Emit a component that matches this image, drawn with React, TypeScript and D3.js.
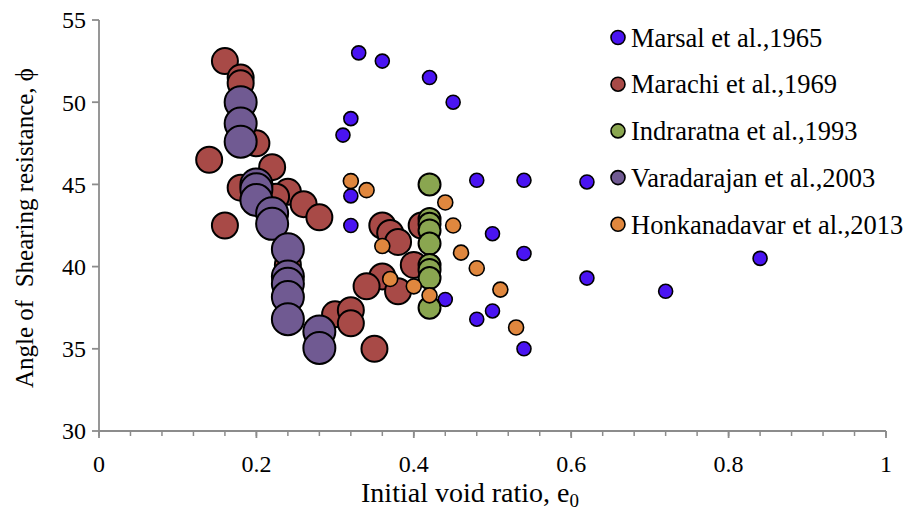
import React from "react";
import * as d3 from "d3";

type Pt = [number, number];

const seriesNames = [
  "Marsal et al.,1965",
  "Marachi et al.,1969",
  "Indraratna et al.,1993",
  "Varadarajan et al.,2003",
  "Honkanadavar et al.,2013",
];

const marsal: Pt[] = [
  [0.33, 53.0], [0.36, 52.5], [0.42, 51.5], [0.45, 50.0], [0.32, 49.0], [0.31, 48.0],
  [0.48, 45.25], [0.54, 45.25], [0.62, 45.15], [0.32, 44.3], [0.32, 42.5], [0.50, 42.0],
  [0.54, 40.8], [0.84, 40.5], [0.62, 39.3], [0.72, 38.5], [0.44, 38.0], [0.50, 37.3],
  [0.48, 36.8], [0.54, 35.0],
];

const marachi: Pt[] = [
  [0.16, 52.5], [0.18, 51.5], [0.18, 51.15], [0.20, 47.5], [0.14, 46.5], [0.22, 46.05],
  [0.18, 44.8], [0.24, 44.55], [0.225, 44.25], [0.26, 43.8], [0.28, 43.0], [0.16, 42.5],
  [0.24, 40.1], [0.36, 42.5], [0.37, 42.05], [0.38, 41.5], [0.41, 42.5], [0.40, 40.1],
  [0.36, 39.4], [0.34, 38.8], [0.38, 38.5], [0.30, 37.1], [0.32, 37.35], [0.32, 36.55],
  [0.35, 35.0],
];

const indraratna: Pt[] = [
  [0.42, 45.0], [0.42, 42.9], [0.42, 42.6], [0.42, 42.2], [0.42, 41.4], [0.42, 40.1],
  [0.42, 39.8], [0.42, 39.3], [0.42, 37.5],
];

const varadarajan: Pt[] = [
  [0.18, 50.0], [0.18, 48.7], [0.18, 47.6], [0.20, 45.0], [0.20, 44.7], [0.20, 44.05],
  [0.22, 43.25], [0.22, 42.6], [0.24, 41.05], [0.24, 39.4], [0.24, 38.95], [0.24, 38.15],
  [0.24, 36.8], [0.28, 36.05], [0.28, 35.05],
];

const honkanadavar: Pt[] = [
  [0.32, 45.2], [0.34, 44.65], [0.44, 43.9], [0.45, 42.5], [0.36, 41.25], [0.46, 40.85],
  [0.48, 39.9], [0.37, 39.25], [0.40, 38.8], [0.51, 38.6], [0.42, 38.25], [0.53, 36.3],
];

const xTickLabels = ["0", "0.2", "0.4", "0.6", "0.8", "1"];
const yTickLabels = ["30", "35", "40", "45", "50", "55"];

const seriesData = [marsal, marachi, indraratna, varadarajan, honkanadavar];
const colors = ["#4A14F2", "#A84A47", "#8AA650", "#705A92", "#E0873E"];
const radii = [7, 13, 11, 16, 7.5];

const W = 908;
const H = 518;
const left = 99;
const right = 886;
const top = 20;
const bottom = 431;
const FONT = "'Liberation Serif', 'Times New Roman', serif";
const AXIS = "#8C8C8C";

export default function App() {
  const x = d3.scaleLinear().domain([0, 1]).range([left, right]);
  const y = d3.scaleLinear().domain([30, 55]).range([bottom, top]);
  const minorTicks = d3.range(0, 26).map((i) => i * 0.04);
  const xt = xTickLabels.map((s) => +s);
  const yt = yTickLabels.map((s) => +s);

  return (
    <svg
      width={W}
      height={H}
      style={{ position: "absolute", left: 0, top: 0, background: "#fff" }}
      fontFamily={FONT}
    >
      <rect width={W} height={H} fill="#fff" />
      {/* axes */}
      <line x1={left} x2={left} y1={top} y2={bottom} stroke={AXIS} strokeWidth={1.8} />
      <line x1={left} x2={right} y1={bottom} y2={bottom} stroke={AXIS} strokeWidth={1.8} />
      {yt.map((v, i) => (
        <g key={"y" + i}>
          <line x1={left - 7} x2={left} y1={y(v)} y2={y(v)} stroke={AXIS} strokeWidth={1.8} />
          <text x={left - 13} y={y(v)} dy="0.35em" textAnchor="end" fontSize={24} fill="#000">
            {yTickLabels[i]}
          </text>
        </g>
      ))}
      {minorTicks.map((v, i) => (
        <line key={"m" + i} x1={x(v)} x2={x(v)} y1={bottom} y2={bottom + 5} stroke={AXIS} strokeWidth={1.5} />
      ))}
      {xt.map((v, i) => (
        <g key={"x" + i}>
          <line x1={x(v)} x2={x(v)} y1={bottom} y2={bottom + 7} stroke={AXIS} strokeWidth={1.8} />
          <text x={x(v)} y={472} textAnchor="middle" fontSize={24} fill="#000">
            {xTickLabels[i]}
          </text>
        </g>
      ))}
      {/* axis titles */}
      <text x={470} y={502} textAnchor="middle" fontSize={28} fill="#000">
        Initial void ratio, e
        <tspan fontSize={19} dy={5}>0</tspan>
      </text>
      <text
        transform={`translate(33, 228) rotate(-90)`}
        textAnchor="middle"
        fontSize={25}
        fill="#000"
        style={{ whiteSpace: "pre" }}
      >
        {"Angle of  Shearing resistance, \u03D5"}
      </text>
      {/* points */}
      {seriesData.map((data, si) => (
        <g key={"s" + si}>
          {data.map((d, i) => (
            <circle
              key={i}
              cx={x(d[0])}
              cy={y(d[1])}
              r={radii[si]}
              fill={colors[si]}
              stroke="#000"
              strokeWidth={si === 0 || si === 4 ? 1.6 : 2}
            />
          ))}
        </g>
      ))}
      {/* legend */}
      {seriesNames.map((name, i) => (
        <g key={"l" + i} transform={`translate(618, ${37.5 + i * 46.7})`}>
          <circle r={7} fill={colors[i]} stroke="#000" strokeWidth={1.6} />
          <text x={13} dy="0.35em" fontSize={26.5} fill="#000">
            {name}
          </text>
        </g>
      ))}
    </svg>
  );
}
